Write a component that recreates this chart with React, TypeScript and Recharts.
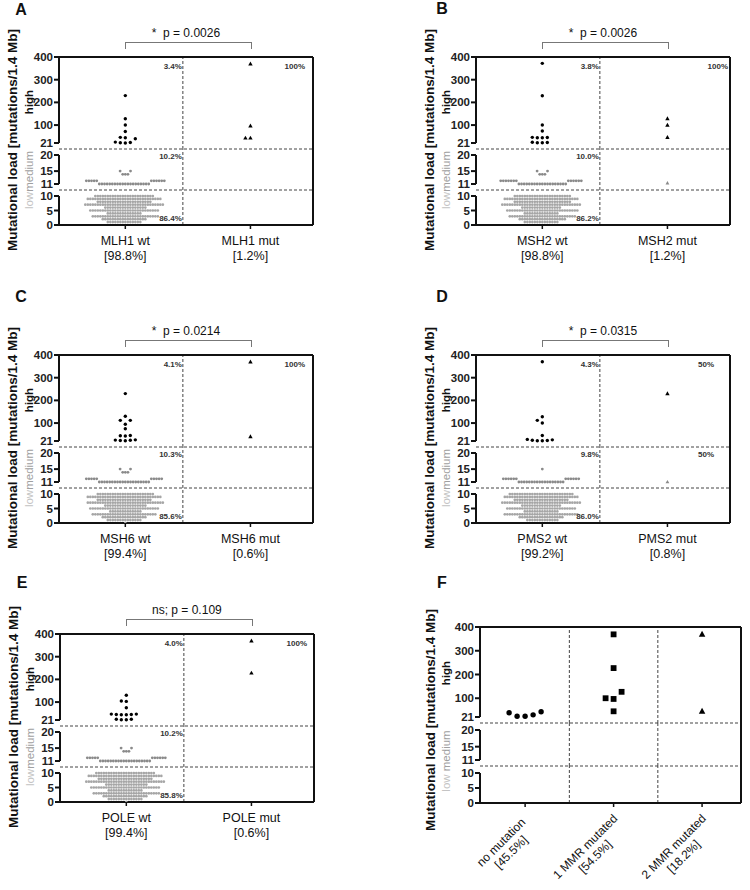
import React from "react";
import { ScatterChart, Scatter, XAxis, YAxis, ReferenceLine } from "recharts";

const FONT = "'Liberation Sans', Arial, Helvetica, sans-serif";

// rows of the medium and low bands (mutations/1.4 Mb)
const medRows = [11, 12, 14, 15];
const lowRows = [0, 1, 2, 3, 4, 5, 6, 7, 8, 9, 10];

// A - MLH1
const mlh1Names = ["MLH1 wt", "MLH1 mut"];
const mlh1Shares = ["[98.8%]", "[1.2%]"];
const mlh1WtHigh = [230, 128, 100, 72, 46, 40, 44, 25, 21, 22, 23];
const mlh1MutHigh = [370, 96, 43, 43];
const mlh1WtMed = [20, 11, 3, 2];
const mlh1MutMed: number[] = [];
const mlh1WtLow = [0, 14, 18, 27, 14, 28, 17, 32, 22, 30, 24];
const mlh1Pct = ["3.4%", "100%", "10.2%", "", "86.4%"];
const mlh1P = "*  p = 0.0026";

// B - MSH2
const msh2Names = ["MSH2 wt", "MSH2 mut"];
const msh2Shares = ["[98.8%]", "[1.2%]"];
const msh2WtHigh = [372, 229, 100, 74, 46, 44, 44, 45, 23, 22, 22, 24];
const msh2MutHigh = [128, 100, 46];
const msh2WtMed = [19, 13, 3, 2];
const msh2MutMed = [11.3];
const msh2WtLow = [0, 14, 19, 27, 14, 29, 16, 32, 23, 30, 23];
const msh2Pct = ["3.8%", "100%", "10.0%", "", "86.2%"];
const msh2P = "*  p = 0.0026";

// C - MSH6
const msh6Names = ["MSH6 wt", "MSH6 mut"];
const msh6Shares = ["[99.4%]", "[0.6%]"];
const msh6WtHigh = [230, 130, 112, 112, 95, 75, 45, 44, 43, 26, 24, 23, 22, 25];
const msh6MutHigh = [370, 40];
const msh6WtMed = [20, 10, 3, 2];
const msh6MutMed: number[] = [];
const msh6WtLow = [1, 14, 18, 26, 13, 28, 17, 31, 22, 30, 23];
const msh6Pct = ["4.1%", "100%", "10.3%", "", "85.6%"];
const msh6P = "*  p = 0.0214";

// D - PMS2
const pms2Names = ["PMS2 wt", "PMS2 mut"];
const pms2Shares = ["[99.2%]", "[0.8%]"];
const pms2WtHigh = [370, 128, 112, 100, 45, 28, 24, 22, 22, 23, 26];
const pms2MutHigh = [230];
const pms2WtMed = [18, 12, 0, 1];
const pms2MutMed = [11];
const pms2WtLow = [0, 13, 18, 30, 14, 28, 16, 32, 22, 30, 26];
const pms2Pct = ["4.3%", "50%", "9.8%", "50%", "86.0%"];
const pms2P = "*  p = 0.0315";

// E - POLE
const poleNames = ["POLE wt", "POLE mut"];
const poleShares = ["[99.4%]", "[0.6%]"];
const poleWtHigh = [130, 105, 103, 75, 47, 44, 45, 45, 44, 47, 24, 22, 22, 24];
const poleMutHigh = [370, 228];
const poleWtMed = [20, 11, 3, 2];
const poleMutMed: number[] = [];
const poleWtLow = [1, 14, 18, 27, 14, 28, 17, 32, 22, 30, 24];
const polePct = ["4.0%", "100%", "10.2%", "", "85.8%"];
const poleP = "ns; p = 0.109";

// F - number of mutated MMR genes
const mmrNames = [
  ["no mutation", "[45.5%]"],
  ["1 MMR mutated", "[54.5%]"],
  ["2 MMR mutated", "[18.2%]"],
];
const noMutHigh = [43, 30, 24, 24, 39];
const oneMmrHigh = [369, 227, 127, 100, 97, 45];
const twoMmrHigh = [369, 45];

type Geo = { h21: number; b1: number; m20: number; m11: number; b2: number; l10: number; l0: number };
const GEO_AE: Geo = { h21: 86, b1: 92, m20: 98, m11: 127, b2: 133, l10: 139, l0: 168 };
const GEO_F: Geo = { h21: 90, b1: 96, m20: 103, m11: 133, b2: 139, l10: 146, l0: 176 };

type Band = { top: number; bottom: number; k: number; domain: [number, number]; ticks: number[]; axis: [number, number] };

// three stacked y ranges of the broken axis
const bands = (g: Geo): Band[] => {
  const kh = g.h21 / 379;
  const km = (g.m11 - g.m20) / 9;
  const kl = (g.l0 - g.l10) / 10;
  return [
    { top: 0, bottom: g.b1, k: kh, domain: [21 - (g.b1 - g.h21) / kh, 400], ticks: [21, 100, 200, 300, 400], axis: [21, 400] },
    { top: g.b1, bottom: g.b2, k: km, domain: [11 - (g.b2 - g.m11) / km, 20 + (g.m20 - g.b1) / km], ticks: [11, 15, 20], axis: [11, 20] },
    { top: g.b2, bottom: g.l0, k: kl, domain: [0, 10 + (g.l10 - g.b2) / kl], ticks: [0, 5, 10], axis: [0, 10] },
  ];
};

const expand = (rows: number[], counts: number[]) => rows.flatMap((v, i) => Array(counts[i] || 0).fill(v));

// prism-like scatter: push points sideways when they would overlap
const swarm = (values: number[], cat: number, k: number, sx: number, sy: number, pxPerX: number) => {
  const placed: { px: number; py: number; v: number }[] = [];
  [...values]
    .sort((a, b) => a - b)
    .forEach((v) => {
      const py = v * k;
      const near = placed.filter((p) => Math.abs(p.py - py) < sy);
      const cands = [0];
      near.forEach((p) => cands.push(p.px - sx, p.px + sx));
      cands.sort((a, b) => Math.abs(a) - Math.abs(b) || a - b);
      const px = cands.find((c) => near.every((p) => Math.abs(p.px - c) > sx - 0.01)) ?? 0;
      placed.push({ px, py, v });
    });
  return placed.map((p) => ({ x: cat + p.px / pxPerX, y: p.v }));
};

const dot = (r: number, fill: string) => (p: any) => <circle cx={p.cx} cy={p.cy} r={r} fill={fill} />;
const tri = (w: number, fill: string) => (p: any) => {
  const h = w * 0.9;
  return <polygon points={`${p.cx},${p.cy - h * 0.6} ${p.cx - w / 2},${p.cy + h * 0.4} ${p.cx + w / 2},${p.cy + h * 0.4}`} fill={fill} />;
};
const sq = (s: number, fill: string) => (p: any) => <rect x={p.cx - s / 2} y={p.cy - s / 2} width={s} height={s} fill={fill} />;

type Series = { values: number[]; cat: number; shape: (p: any) => React.ReactElement; sx: number; sy: number };

const YW = 40;
const MT = 8;
const MR = 8;
const MB = 2;

function BandChart(props: {
  band: Band; idx: number; axisX: number; top: number; plotW: number; xDomain: [number, number];
  cats: number[]; seps: number[]; series: Series[]; tick: any; xH: number;
}) {
  const { band, idx, axisX, top, plotW, xDomain, cats, seps, series, tick, xH } = props;
  const isLow = idx === 2;
  const h = band.bottom - band.top;
  const pxPerX = plotW / (xDomain[1] - xDomain[0]);
  const height = MT + h + (isLow ? xH : 0) + MB;
  return (
    <div style={{ position: "absolute", left: axisX - YW, top: top + band.top - MT }}>
      <ScatterChart width={YW + plotW + MR} height={height} margin={{ top: MT, right: MR, bottom: MB, left: 0 }}>
        <XAxis
          type="number"
          dataKey="x"
          domain={xDomain}
          allowDataOverflow
          hide={!isLow}
          ticks={cats}
          interval={0}
          height={xH}
          axisLine={{ stroke: "#111", strokeWidth: 2 }}
          tickLine={{ stroke: "#111", strokeWidth: 1.5 }}
          tickSize={4}
          tick={tick}
        />
        <YAxis
          type="number"
          dataKey="y"
          domain={band.domain}
          allowDataOverflow
          ticks={band.ticks}
          interval={0}
          width={YW}
          axisLine={false}
          tickLine={{ stroke: "#111", strokeWidth: 2 }}
          tickSize={5}
          tickMargin={1}
          tick={{ fontSize: 11.5, fontWeight: 700, fill: "#222", fontFamily: FONT }}
        />
        {seps.map((s) => (
          <ReferenceLine key={s} x={s} stroke="#444" strokeDasharray="3 2" ifOverflow="visible" />
        ))}
        {idx < 2 && <ReferenceLine y={band.domain[0]} stroke="#444" strokeDasharray="3 2" ifOverflow="visible" />}
        <ReferenceLine
          segment={[{ x: xDomain[0], y: band.axis[0] }, { x: xDomain[0], y: band.axis[1] }]}
          stroke="#111"
          strokeWidth={2}
          ifOverflow="visible"
        />
        {idx === 0 && <ReferenceLine y={400} stroke="#111" strokeWidth={2} ifOverflow="visible" />}
        <ReferenceLine x={xDomain[1]} stroke="#111" strokeWidth={2} ifOverflow="visible" />
        {series.map((s, i) => (
          <Scatter
            key={i}
            data={swarm(s.values, s.cat, band.k, s.sx, s.sy, pxPerX)}
            shape={s.shape}
            isAnimationActive={false}
          />
        ))}
      </ScatterChart>
    </div>
  );
}

const Txt = (p: { x: number; y: number; children: React.ReactNode; size?: number; weight?: number; color?: string; align?: string; rot?: number }) => {
  const tx = p.align === "right" ? "-100%" : p.align === "left" ? "0" : "-50%";
  return (
    <div
      style={{
        position: "absolute",
        left: p.x,
        top: p.y,
        transform: `translate(${tx}, -50%) rotate(${p.rot || 0}deg)`,
        fontSize: p.size || 12,
        fontWeight: p.weight || 400,
        color: p.color || "#111",
        fontFamily: FONT,
        whiteSpace: "pre",
        lineHeight: 1,
      }}
    >
      {p.children}
    </div>
  );
};

const catTick = (names: string[], shares: string[]) => (p: any) => {
  const i = Math.round(p.payload.value) - 1;
  return (
    <g>
      <text x={p.x} y={p.y + 14} textAnchor="middle" fontSize={12.5} fill="#111" fontFamily={FONT}>{names[i]}</text>
      <text x={p.x} y={p.y + 29} textAnchor="middle" fontSize={12.5} fill="#111" fontFamily={FONT}>{shares[i]}</text>
    </g>
  );
};

const mmrTick = (p: any) => {
  const [a, b] = mmrNames[Math.round(p.payload.value) - 1];
  const c = -a.length * 3.1;
  return (
    <g transform={`translate(${p.x + 3},${p.y + 12}) rotate(-45)`}>
      <text x={c} y={0} textAnchor="middle" fontSize={12} fill="#111" fontFamily={FONT}>{a}</text>
      <text x={c} y={14} textAnchor="middle" fontSize={12} fill="#111" fontFamily={FONT}>{b}</text>
    </g>
  );
};

const panelsAE = [
  { letter: "A", lx: 21, ly: 10, axisX: 59, top: 57, names: mlh1Names, shares: mlh1Shares, wtHigh: mlh1WtHigh, mutHigh: mlh1MutHigh, wtMed: mlh1WtMed, mutMed: mlh1MutMed, wtLow: mlh1WtLow, pct: mlh1Pct, p: mlh1P, mutGap: 8 },
  { letter: "B", lx: 442, ly: 9, axisX: 476, top: 57, names: msh2Names, shares: msh2Shares, wtHigh: msh2WtHigh, mutHigh: msh2MutHigh, wtMed: msh2WtMed, mutMed: msh2MutMed, wtLow: msh2WtLow, pct: msh2Pct, p: msh2P, mutGap: 2 },
  { letter: "C", lx: 21, ly: 297, axisX: 59, top: 355, names: msh6Names, shares: msh6Shares, wtHigh: msh6WtHigh, mutHigh: msh6MutHigh, wtMed: msh6WtMed, mutMed: msh6MutMed, wtLow: msh6WtLow, pct: msh6Pct, p: msh6P, mutGap: 8 },
  { letter: "D", lx: 442, ly: 297, axisX: 476, top: 355, names: pms2Names, shares: pms2Shares, wtHigh: pms2WtHigh, mutHigh: pms2MutHigh, wtMed: pms2WtMed, mutMed: pms2MutMed, wtLow: pms2WtLow, pct: pms2Pct, p: pms2P, mutGap: 16 },
  { letter: "E", lx: 22, ly: 583, axisX: 60, top: 634, names: poleNames, shares: poleShares, wtHigh: poleWtHigh, mutHigh: poleMutHigh, wtMed: poleWtMed, mutMed: poleMutMed, wtLow: poleWtLow, pct: polePct, p: poleP, mutGap: 7 },
];

function GenePanel({ cfg }: { cfg: (typeof panelsAE)[number] }) {
  const plotW = 254;
  const xDomain: [number, number] = [0.47, 2.5];
  const pxPerX = plotW / (xDomain[1] - xDomain[0]);
  const sep = 1.46;
  const wtX = cfg.axisX + (1 - xDomain[0]) * pxPerX;
  const mutX = cfg.axisX + (2 - xDomain[0]) * pxPerX;
  const sepX = cfg.axisX + (sep - xDomain[0]) * pxPerX;
  const rightX = cfg.axisX + plotW;
  const bs = bands(GEO_AE);
  const series: Series[][] = [
    [
      { values: cfg.wtHigh, cat: 1, shape: dot(1.7, "#000"), sx: 5, sy: 4.5 },
      { values: cfg.mutHigh, cat: 2, shape: tri(4.4, "#000"), sx: 5, sy: 4.5 },
    ],
    [
      { values: expand(medRows, cfg.wtMed), cat: 1, shape: dot(1.4, "#8a8a8a"), sx: 2.6, sy: 3.5 },
      { values: cfg.mutMed, cat: 2, shape: tri(3.8, "#8a8a8a"), sx: 2.6, sy: 3.5 },
    ],
    [{ values: expand(lowRows, cfg.wtLow), cat: 1, shape: dot(1.35, "#a6a6a6"), sx: 2.5, sy: 2 }],
  ];
  const t = cfg.top;
  return (
    <>
      {bs.map((b, i) => (
        <BandChart
          key={i}
          band={b}
          idx={i}
          axisX={cfg.axisX}
          top={t}
          plotW={plotW}
          xDomain={xDomain}
          cats={[1, 2]}
          seps={[sep]}
          series={series[i]}
          tick={catTick(cfg.names, cfg.shares)}
          xH={44}
        />
      ))}
      <Txt x={cfg.lx} y={cfg.ly} size={16} weight={700}>{cfg.letter}</Txt>
      <Txt x={cfg.axisX - 46} y={t + 83} size={13.5} weight={700} rot={-90}>Mutational load [mutations/1.4 Mb]</Txt>
      <Txt x={cfg.axisX - 29} y={t + 45} size={11.5} weight={700} rot={-90}>high</Txt>
      <Txt x={cfg.axisX - 29} y={t + 123} size={11.5} rot={-90}>
        <span style={{ color: "#c4c4c4" }}>low</span>
        <span style={{ color: "#a0a0a0" }}>medium</span>
      </Txt>
      <Txt x={(wtX + mutX) / 2 - 2} y={t - 24} size={12}>{cfg.p}</Txt>
      <div
        style={{
          position: "absolute",
          left: wtX,
          top: t - 15,
          width: mutX - wtX,
          height: 6,
          borderTop: "1px solid #777",
          borderLeft: "1px solid #777",
          borderRight: "1px solid #777",
        }}
      />
      <Txt x={sepX - 1} y={t + 10} size={8} weight={700} color="#333" align="right">{cfg.pct[0]}</Txt>
      <Txt x={rightX - cfg.mutGap} y={t + 10} size={8} weight={700} color="#333" align="right">{cfg.pct[1]}</Txt>
      <Txt x={sepX - 1} y={t + 100} size={8} weight={700} color="#333" align="right">{cfg.pct[2]}</Txt>
      <Txt x={rightX - cfg.mutGap} y={t + 100} size={8} weight={700} color="#333" align="right">{cfg.pct[3]}</Txt>
      <Txt x={sepX - 1} y={t + 162} size={8} weight={700} color="#333" align="right">{cfg.pct[4]}</Txt>
    </>
  );
}

function MmrPanel() {
  const axisX = 480;
  const top = 627;
  const plotW = 261;
  const xDomain: [number, number] = [0.49, 3.44];
  const bs = bands(GEO_F);
  const series: Series[][] = [
    [
      { values: noMutHigh, cat: 1, shape: dot(2.7, "#000"), sx: 8, sy: 8 },
      { values: oneMmrHigh, cat: 2, shape: sq(5.8, "#000"), sx: 8, sy: 8 },
      { values: twoMmrHigh, cat: 3, shape: tri(6.5, "#000"), sx: 8, sy: 8 },
    ],
    [],
    [],
  ];
  return (
    <>
      {bs.map((b, i) => (
        <BandChart
          key={i}
          band={b}
          idx={i}
          axisX={axisX}
          top={top}
          plotW={plotW}
          xDomain={xDomain}
          cats={[1, 2, 3]}
          seps={[1.5, 2.5]}
          series={series[i]}
          tick={mmrTick}
          xH={85}
        />
      ))}
      <Txt x={442} y={583} size={16} weight={700}>F</Txt>
      <Txt x={axisX - 49} y={top + 93} size={13.5} weight={700} rot={-90}>Mutational load [mutations/1.4 Mb]</Txt>
      <Txt x={axisX - 33} y={top + 46} size={11.5} weight={700} rot={-90}>high</Txt>
      <Txt x={axisX - 33} y={top + 134} size={11.5} rot={-90}>
        <span style={{ color: "#c4c4c4" }}>low </span>
        <span style={{ color: "#a0a0a0" }}>medium</span>
      </Txt>
    </>
  );
}

export default function App() {
  return (
    <div style={{ position: "absolute", left: 0, top: 0, width: 750, height: 890, overflow: "hidden", background: "#fff" }}>
      {panelsAE.map((c) => (
        <GenePanel key={c.letter} cfg={c} />
      ))}
      <MmrPanel />
    </div>
  );
}
